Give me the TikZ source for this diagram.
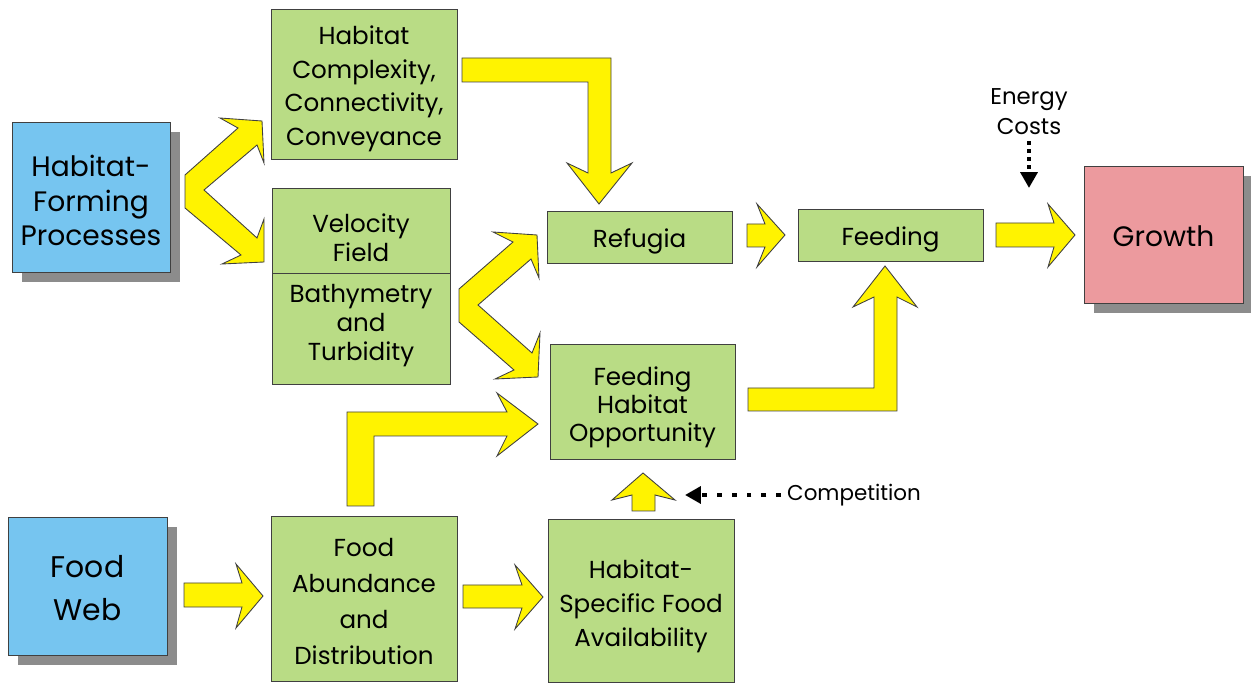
\documentclass[tikz,border=0pt]{standalone}
\usepackage{fontspec}
\setmainfont{Poppins}
\usetikzlibrary{shadows, arrows.meta, positioning}

\definecolor{procblue}{HTML}{76C5F0}
\definecolor{boxgreen}{HTML}{B9DC85}
\definecolor{growthpink}{HTML}{EC9A9E}
\definecolor{flowyellow}{HTML}{FFF300}

% invisible struts to sit the text lower or higher in its box
\newcommand\topgap[1]{\rule{0pt}{#1}}
\newcommand\bottomgap[1]{\rule[-#1]{0pt}{#1}}

\begin{document}
\begin{tikzpicture}[x=0.02cm, y=-0.02cm,
	box/.style={draw=black!75, fill=boxgreen, line width=0.5pt, align=center, inner sep=0pt, font=\fontsize{14}{18.5}\selectfont},
	shadowbox/.style={box, general shadow={fill=black!45, shadow xshift=0.2cm, shadow yshift=-0.2cm}, font=\fontsize{16}{19.5}\selectfont},
	flow/.style={draw=black!75, fill=flowyellow, line width=0.5pt, line join=miter},
	note/.style={font=\fontsize{13}{17}\selectfont, align=center},
	dotarrow/.style={line width=2.2pt, -{Triangle[length=9pt, width=9.5pt]}}]
		
		\useasboundingbox (0,0) rectangle (1251,685);
		
		% Habitat side
		\node[shadowbox, fill=procblue, minimum width=3.16cm, minimum height=3cm] (hfp) at (91,197) {\topgap{16.3pt}Habitat-\\Forming\\Processes};
		\node[box, minimum width=3.72cm, minimum height=3cm, font=\fontsize{14}{19}\selectfont] (hccc) at (364,84) {\topgap{16.1pt}Habitat\\Complexity,\\Connectivity,\\Conveyance};
		\node[box, minimum width=3.56cm, minimum height=1.7cm, font=\fontsize{14}{16.5}\selectfont] (vel) at (361,230.5) {\topgap{19.4pt}Velocity\\Field};
		\node[box, minimum width=3.56cm, minimum height=2.22cm, font=\fontsize{14}{16.7}\selectfont, below=0pt of vel] (bath) {Bathymetry\\and\\Turbidity\bottomgap{7.9pt}};
		
		% Middle and right
		\node[box, minimum width=3.7cm, minimum height=1.04cm] (refugia) at (639.5,237) {\topgap{16.1pt}Refugia};
		\node[box, minimum width=3.7cm, minimum height=1.04cm] (feeding) at (890.5,235) {\topgap{16.1pt}Feeding};
		\node[shadowbox, fill=growthpink, minimum width=3.18cm, minimum height=2.74cm] (growth) at (1163.5,234.5) {\topgap{14.1pt}Growth};
		\node[box, minimum width=3.7cm, minimum height=2.3cm, font=\fontsize{14}{16}\selectfont] (fho) at (642.5,401.5) {\topgap{17.2pt}Feeding\\Habitat\\Opportunity};
		
		% Food side
		\node[shadowbox, fill=procblue, minimum width=3.18cm, minimum height=2.76cm, font=\fontsize{17}{24.5}\selectfont] (foodweb) at (87.5,586) {\topgap{14.9pt}Food\\Web};
		\node[box, minimum width=3.72cm, minimum height=3.3cm, font=\fontsize{14}{20.4}\selectfont] (fad) at (364,598.5) {\topgap{13.8pt}Food\\Abundance\\and\\Distribution};
		\node[box, minimum width=3.72cm, minimum height=3.26cm, font=\fontsize{14}{19.6}\selectfont] (hsfa) at (641,600.5) {\topgap{17.2pt}Habitat-\\Specific Food\\Availability};
		
		% Outside influences
		\node[note] (energy) at (1029,112) {Energy\\Costs};
		\coordinate (costin) at (1029,188);
		\draw[dotarrow, line width=2.5pt, dash pattern=on 2.3pt off 2.3pt] (energy) -- (costin);
		\node[note, anchor=west, font=\fontsize{12.2}{15}\selectfont] (competition) at (781,495) {Competition};
		\coordinate (compin) at (685,495);
		\draw[dotarrow, dash pattern=on 2.8pt off 5.6pt] (competition) -- (compin);
		
		% Yellow flow arrows
		\draw[flow] (185,175) -- (238,128) -- (220,118) -- (262,121) -- (264,163) -- (257,145) -- (204,190) -- (257,238) -- (264,219) -- (264,262) -- (222,264) -- (241,255) -- (185,208) -- cycle;
		\draw[flow] (459,289) -- (513,242) -- (493,232) -- (537,235) -- (539,278) -- (531,259) -- (478,305) -- (532,353) -- (540,333) -- (538,377) -- (495,379) -- (514,370) -- (459,322) -- cycle;
		\draw[flow] (462,58) -- (611,58) -- (611,173) -- (632,163) -- (599,204) -- (567,163) -- (588,173) -- (588,82) -- (462,82) -- cycle;
		\draw[flow] (747,224) -- (765,224) -- (757,204) -- (785,235) -- (757,267) -- (765,247) -- (747,247) -- cycle;
		\draw[flow] (996,223) -- (1054,223) -- (1048,204) -- (1075,235) -- (1048,267) -- (1054,247) -- (996,247) -- cycle;
		\draw[flow] (748,388) -- (874,388) -- (874,297) -- (853,307) -- (885,266) -- (917,307) -- (897,297) -- (897,411) -- (748,411) -- cycle;
		\draw[flow] (347,506) -- (347,412) -- (507,412) -- (497,393) -- (538,424) -- (497,456) -- (507,436) -- (374,436) -- (374,506) -- cycle;
		\draw[flow] (632,511) -- (632,495) -- (612,500) -- (643,473) -- (675,500) -- (655,495) -- (655,511) -- cycle;
		\draw[flow] (184,583) -- (242,583) -- (236,564) -- (263,596) -- (236,628) -- (242,607) -- (184,607) -- cycle;
		\draw[flow] (463,585) -- (522,585) -- (515,565) -- (543,597) -- (515,629) -- (522,608) -- (463,608) -- cycle;
		
	\end{tikzpicture}
\end{document}
